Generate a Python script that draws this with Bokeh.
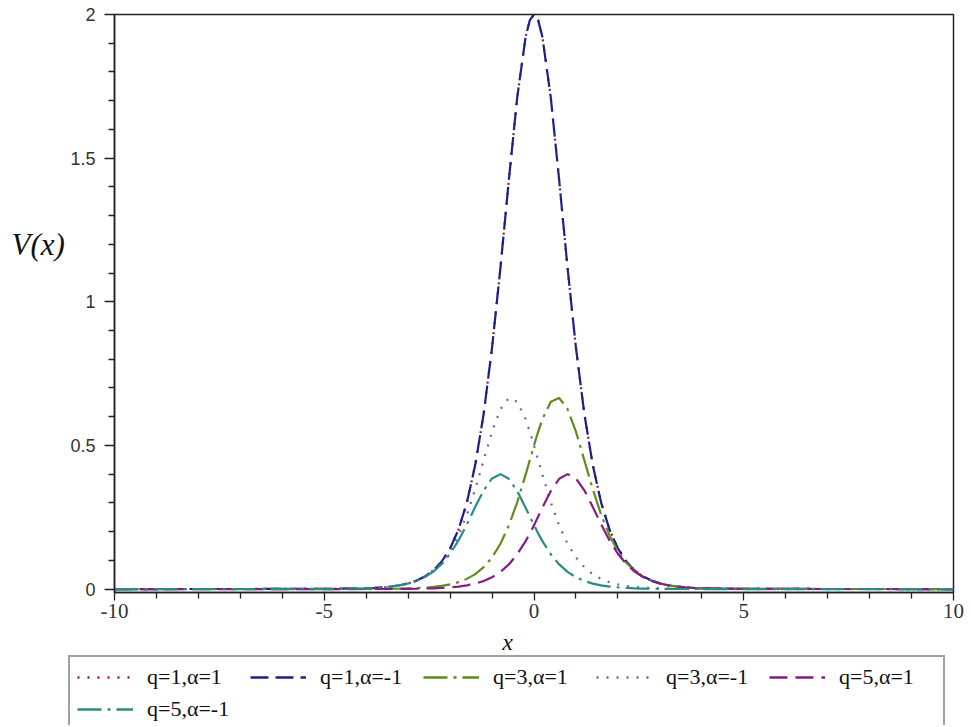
from bokeh.plotting import figure
from bokeh.models import Range1d, FixedTicker, Legend, LegendItem, Label
from bokeh.layouts import row, column
from bokeh.embed import file_html
from bokeh.resources import INLINE

# ---- data ----
x_vals = [-10.0, -5.0,
          -4.0, -3.8, -3.6, -3.4, -3.2, -3.0, -2.8, -2.6, -2.4, -2.2,
          -2.0, -1.8, -1.6, -1.4, -1.2, -1.0, -0.8, -0.6, -0.4, -0.2, -0.1,
          0.0, 0.1, 0.2, 0.4, 0.6, 0.8, 1.0, 1.2, 1.4, 1.6, 1.8,
          2.0, 2.2, 2.4, 2.6, 2.8, 3.0, 3.2, 3.4, 3.6, 3.8, 4.0,
          5.0, 10.0]

# q=1 (both alpha give the same curve)
v_q1 = [0.0, 0.0004,
        0.0027, 0.0040, 0.0060, 0.0089, 0.0133, 0.0197, 0.0294, 0.0437, 0.0648, 0.0959,
        0.1413, 0.2071, 0.3011, 0.4323, 0.6100, 0.8400, 1.1181, 1.4232, 1.7113, 1.9221, 1.9801,
        2.0000, 1.9801, 1.9221, 1.7113, 1.4232, 1.1181, 0.8400, 0.6100, 0.4323, 0.3011, 0.2071,
        0.1413, 0.0959, 0.0648, 0.0437, 0.0294, 0.0197, 0.0133, 0.0089, 0.0060, 0.0040, 0.0027,
        0.0004, 0.0]

# q=3, alpha=1
v_q3_a1 = [0.0, 0.0,
           0.0003, 0.0004, 0.0007, 0.0010, 0.0015, 0.0022, 0.0033, 0.0049, 0.0073, 0.0108,
           0.0161, 0.0239, 0.0353, 0.0519, 0.0760, 0.1101, 0.1576, 0.2211, 0.3021, 0.3981, 0.4492,
           0.5000, 0.5483, 0.5915, 0.6520, 0.6650, 0.6265, 0.5477, 0.4484, 0.3480, 0.2589, 0.1867,
           0.1317, 0.0914, 0.0627, 0.0427, 0.0289, 0.0195, 0.0132, 0.0089, 0.0060, 0.0040, 0.0027,
           0.0004, 0.0]

# q=3, alpha=-1
v_q3_am1 = [0.0, 0.0004,
            0.0027, 0.0040, 0.0060, 0.0089, 0.0132, 0.0195, 0.0289, 0.0427, 0.0627, 0.0914,
            0.1317, 0.1867, 0.2589, 0.3480, 0.4484, 0.5477, 0.6265, 0.6650, 0.6520, 0.5915, 0.5483,
            0.5000, 0.4492, 0.3981, 0.3021, 0.2211, 0.1576, 0.1101, 0.0760, 0.0519, 0.0353, 0.0239,
            0.0161, 0.0108, 0.0073, 0.0049, 0.0033, 0.0022, 0.0015, 0.0010, 0.0007, 0.0004, 0.0003,
            0.0, 0.0]

# q=5, alpha=1
v_q5_a1 = [0.0, 0.0,
           0.0001, 0.0002, 0.0002, 0.0004, 0.0005, 0.0008, 0.0012, 0.0018, 0.0026, 0.0039,
           0.0058, 0.0087, 0.0128, 0.0190, 0.0280, 0.0411, 0.0597, 0.0857, 0.1211, 0.1668, 0.1935,
           0.2222, 0.2525, 0.2832, 0.3410, 0.3837, 0.4000, 0.3851, 0.3435, 0.2861, 0.2250, 0.1692,
           0.1230, 0.0872, 0.0607, 0.0418, 0.0285, 0.0194, 0.0131, 0.0088, 0.0059, 0.0040, 0.0027,
           0.0004, 0.0]

# q=5, alpha=-1
v_q5_am1 = [0.0, 0.0004,
            0.0027, 0.0040, 0.0059, 0.0088, 0.0131, 0.0194, 0.0285, 0.0418, 0.0607, 0.0872,
            0.1230, 0.1692, 0.2250, 0.2861, 0.3435, 0.3851, 0.4000, 0.3837, 0.3410, 0.2832, 0.2525,
            0.2222, 0.1935, 0.1668, 0.1211, 0.0857, 0.0597, 0.0411, 0.0280, 0.0190, 0.0128, 0.0087,
            0.0058, 0.0039, 0.0026, 0.0018, 0.0012, 0.0008, 0.0005, 0.0004, 0.0002, 0.0002, 0.0001,
            0.0, 0.0]

series_labels = ["q=1,\u03b1=1", "q=1,\u03b1=-1", "q=3,\u03b1=1",
                 "q=3,\u03b1=-1", "q=5,\u03b1=1", "q=5,\u03b1=-1"]
series_values = [v_q1, v_q1, v_q3_a1, v_q3_am1, v_q5_a1, v_q5_am1]

x_ticks = [-10, -5, 0, 5, 10]
x_tick_labels = ["-10", "-5", "0", "5", "10"]
x_minor = [-9, -8, -7, -6, -4, -3, -2, -1, 1, 2, 3, 4, 6, 7, 8, 9]
y_ticks = [0, 0.5, 1, 1.5, 2]
y_tick_labels = ["0", "0.5", "1", "1.5", "2"]
y_minor = [0.1, 0.2, 0.3, 0.4, 0.6, 0.7, 0.8, 0.9, 1.1, 1.2, 1.3, 1.4,
           1.6, 1.7, 1.8, 1.9]

# ---- styles ----
colors = ["#a01818", "#1e1e8c", "#5e8c1e", "#6464a8", "#861a86", "#2a8c80"]
dashes = ["2 8", "18 7", "24 6 3 6", "2 8", "18 8", "24 6 3 6"]
INK = "#222222"
SERIF = "Liberation Serif"

y_range = Range1d(-0.012, 2.0)

# ---- main plot ----
p = figure(frame_width=839, frame_height=578, output_backend="svg",
           toolbar_location=None,
           x_range=Range1d(-10, 10), y_range=y_range,
           min_border_left=46, min_border_right=11, min_border_top=14,
           min_border_bottom=38)
p.xgrid.visible = False
p.ygrid.visible = False
p.outline_line_color = INK
p.outline_line_width = 1.5

for vals, col, dash in zip(series_values, colors, dashes):
    p.line(x_vals, vals, line_color=col, line_width=2.2, line_dash=dash)

p.xaxis.ticker = FixedTicker(ticks=x_ticks, minor_ticks=x_minor)
p.yaxis.ticker = FixedTicker(ticks=y_ticks, minor_ticks=y_minor)
p.xaxis.major_label_overrides = {t: s for t, s in zip(x_ticks, x_tick_labels)}
p.yaxis.major_label_overrides = {t: s for t, s in zip(y_ticks, y_tick_labels)}
for ax in (p.xaxis[0], p.yaxis[0]):
    ax.axis_line_color = INK
    ax.axis_line_width = 1.5
    ax.major_tick_line_color = INK
    ax.minor_tick_line_color = INK
    ax.major_tick_line_width = 1.3
    ax.minor_tick_line_width = 1.3
    ax.major_tick_out = 10
    ax.major_tick_in = 0
    ax.minor_tick_out = 6
    ax.minor_tick_in = 0
    ax.major_label_text_color = "#333333"
p.xaxis.major_tick_out = 8
p.xaxis.major_label_text_font = SERIF
p.xaxis.major_label_text_font_size = "21px"
p.xaxis.major_label_standoff = 3
p.yaxis.major_label_text_font = "Liberation Sans"
p.yaxis.major_label_text_font_size = "18px"
p.yaxis.major_label_standoff = 9

# ---- left strip holding the V(x) title (shares the y range) ----
pl = figure(width=67, frame_height=578, output_backend="svg",
            toolbar_location=None, x_range=Range1d(0, 67), y_range=y_range,
            min_border_left=0, min_border_right=0, min_border_top=14,
            min_border_bottom=0, x_axis_location=None, y_axis_location=None)
pl.xgrid.visible = False
pl.ygrid.visible = False
pl.outline_line_color = None
pl.add_layout(Label(x=11, y=1.2, text="V(x)", text_font=SERIF,
                    text_font_style="italic", text_font_size="31px",
                    text_baseline="middle", text_align="left",
                    text_color="#111111"))

# ---- bottom strip holding the x title and the legend ----
# (its x range starts at 100 so the key lines' own data stay off-canvas)
pb = figure(width=963, height=95, output_backend="svg", toolbar_location=None,
            x_range=Range1d(100, 1063), y_range=Range1d(95, 0),
            min_border=0, x_axis_location=None, y_axis_location=None)
pb.xgrid.visible = False
pb.ygrid.visible = False
pb.outline_line_color = None
pb.add_layout(Label(x=607, y=11, text="x", text_font=SERIF,
                    text_font_style="italic", text_font_size="24px",
                    text_baseline="middle", text_align="center",
                    text_color="#111111"))

keys = []
for vals, col, dash in zip(series_values, colors, dashes):
    keys.append(pb.line(x_vals, vals, line_color=col, line_width=2.4,
                        line_dash=dash))

legend = Legend(items=[LegendItem(label=l, renderers=[r])
                       for l, r in zip(series_labels, keys)],
                location=(68, -6), orientation="horizontal", ncols=5,
                glyph_width=56, glyph_height=24, label_standoff=14,
                label_width=97, label_height=24,
                label_text_font=SERIF, label_text_font_size="22px",
                label_text_color="#111111",
                spacing=6, padding=7, margin=0,
                border_line_color="#444444", border_line_width=2,
                background_fill_alpha=1.0)
pb.add_layout(legend, "center")

layout = column(row(pl, p), pb)
open("out.html", "w").write(file_html(layout, INLINE))
